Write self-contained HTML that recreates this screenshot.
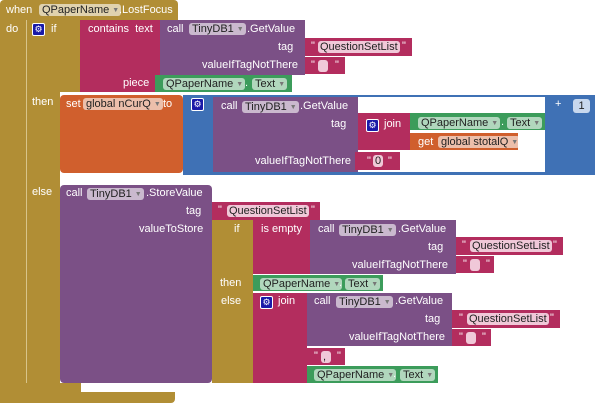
<!DOCTYPE html>
<html><head><style>
body{margin:0;width:600px;height:403px;background:#fff;position:relative;overflow:hidden;font-family:"Liberation Sans",sans-serif;font-size:11px;color:#fff}
.b{position:absolute;box-sizing:border-box}
.o{background:#B18E35}.p{background:#7B5086}.c{background:#B32D5E}.g{background:#3C9C5B}.r{background:#D05F2D}.u{background:#3F71B5}
.t{position:absolute;white-space:nowrap;line-height:13px}
.d{position:absolute;white-space:nowrap;line-height:12px;background:rgba(255,255,255,.6);color:#222;border-radius:3px;padding:0 2px 0 3px;height:12px}
.d i{font-style:normal;font-size:7px;color:#777;margin-left:3px;vertical-align:1px}
.s{position:absolute;white-space:nowrap;line-height:12px;background:#f0c8d8;color:#222;border-radius:3px;padding:0 2px;height:12px}
.gear{position:absolute;width:11px;height:11px;background:#1a1aa8;border:1px solid #fff;border-radius:2px;font-size:9px;line-height:11px;text-align:center}
</style></head><body>
<!-- event -->
<div class="b o" style="left:0;top:0;width:178px;height:20px;border-radius:4px 4px 0 0"></div>
<div class="b o" style="left:0;top:20px;width:26px;height:383px"></div>
<div class="b o" style="left:0;top:392px;width:175px;height:11px;border-radius:0 0 4px 4px"></div>
<div class="t" style="left:6px;top:4px">when</div>
<div class="d" style="left:39px;top:4px">QPaperName<i>▼</i></div>
<div class="t" style="left:119px;top:4px">.LostFocus</div>
<div class="t" style="left:6px;top:23px">do</div>
<!-- if -->
<div class="b o" style="left:26px;top:20px;width:34px;height:372px;border-left:1px solid #d8c48a"></div>
<div class="b o" style="left:60px;top:20px;width:20px;height:72px"></div>
<div class="b o" style="left:26px;top:383px;width:55px;height:9px"></div>
<div class="gear" style="left:32px;top:23px">⚙</div>
<div class="t" style="left:51px;top:23px">if</div>
<div class="t" style="left:32px;top:96px">then</div>
<div class="t" style="left:32px;top:186px">else</div>
<!-- contains -->
<div class="b c" style="left:80px;top:20px;width:80px;height:72px"></div>
<div class="t" style="left:88px;top:23px">contains&nbsp; text</div>
<div class="t" style="left:123px;top:77px">piece</div>
<div class="b p" style="left:160px;top:20px;width:145px;height:55px"></div>
<div class="t" style="left:167px;top:23px">call</div>
<div class="d" style="left:189px;top:23px">TinyDB1<i>▼</i></div>
<div class="t" style="left:247px;top:23px">.GetValue</div>
<div class="t" style="left:278px;top:41px">tag</div>
<div class="t" style="left:202px;top:59px">valueIfTagNotThere</div>
<div class="b c" style="left:305px;top:38px;width:107px;height:18px"></div>
<div class="t" style="left:311px;top:40px">"</div><div class="s" style="left:318px;top:41px">QuestionSetList</div><div class="t" style="left:402px;top:40px">"</div>
<div class="b c" style="left:305px;top:57px;width:40px;height:17px"></div>
<div class="t" style="left:311px;top:59px">"</div><div class="s" style="left:318px;top:60px;width:6px"></div><div class="t" style="left:335px;top:59px">"</div>
<div class="b g" style="left:155px;top:75px;width:137px;height:17px"></div>
<div class="d" style="left:163px;top:78px">QPaperName<i>▼</i></div><div class="t" style="left:245px;top:77px">.</div><div class="d" style="left:252px;top:78px">Text<i>▼</i></div>
<!-- set -->
<div class="b r" style="left:60px;top:95px;width:123px;height:78px;border-radius:4px"></div>
<div class="t" style="left:66px;top:98px">set</div>
<div class="d" style="left:83px;top:98px">global nCurQ<i>▼</i></div>
<div class="t" style="left:163px;top:98px">to</div>
<div class="b u" style="left:183px;top:95px;width:412px;height:80px"></div>
<div class="b" style="left:358px;top:97px;width:187px;height:75px;background:#fff"></div>
<div class="gear" style="left:191px;top:98px">⚙</div>
<div class="t" style="left:555px;top:98px">+</div>
<div class="b" style="left:573px;top:99px;width:17px;height:14px;background:#c8d8ee;border-radius:3px;color:#222;text-align:center;line-height:14px">1</div>
<div class="b p" style="left:213px;top:97px;width:145px;height:75px"></div>
<div class="t" style="left:221px;top:100px">call</div>
<div class="d" style="left:242px;top:101px">TinyDB1<i>▼</i></div>
<div class="t" style="left:300px;top:100px">.GetValue</div>
<div class="t" style="left:331px;top:118px">tag</div>
<div class="t" style="left:255px;top:155px">valueIfTagNotThere</div>
<div class="b c" style="left:358px;top:113px;width:52px;height:37px"></div>
<div class="gear" style="left:366px;top:119px">⚙</div>
<div class="t" style="left:384px;top:118px">join</div>
<div class="b g" style="left:410px;top:113px;width:135px;height:17px"></div>
<div class="d" style="left:418px;top:117px">QPaperName<i>▼</i></div><div class="t" style="left:501px;top:116px">.</div><div class="d" style="left:507px;top:117px">Text<i>▼</i></div>
<div class="b r" style="left:410px;top:133px;width:108px;height:17px"></div>
<div class="t" style="left:418px;top:136px">get</div><div class="d" style="left:438px;top:136px">global stotalQ<i>▼</i></div>
<div class="b c" style="left:355px;top:152px;width:45px;height:18px"></div>
<div class="t" style="left:367px;top:155px">"</div><div class="s" style="left:373px;top:155px">0</div><div class="t" style="left:388px;top:155px">"</div>
<!-- store -->
<div class="b p" style="left:60px;top:185px;width:152px;height:198px;border-radius:4px"></div>
<div class="t" style="left:66px;top:187px">call</div>
<div class="d" style="left:87px;top:188px">TinyDB1<i>▼</i></div>
<div class="t" style="left:146px;top:187px">.StoreValue</div>
<div class="t" style="left:186px;top:205px">tag</div>
<div class="t" style="left:139px;top:223px">valueToStore</div>
<div class="b c" style="left:212px;top:202px;width:108px;height:18px"></div>
<div class="t" style="left:218px;top:204px">"</div><div class="s" style="left:227px;top:205px">QuestionSetList</div><div class="t" style="left:311px;top:204px">"</div>
<div class="b o" style="left:212px;top:220px;width:41px;height:163px"></div>
<div class="t" style="left:234px;top:223px">if</div>
<div class="t" style="left:220px;top:277px">then</div>
<div class="t" style="left:221px;top:295px">else</div>
<div class="b c" style="left:253px;top:220px;width:57px;height:54px"></div>
<div class="t" style="left:261px;top:223px">is empty</div>
<div class="b p" style="left:310px;top:220px;width:146px;height:54px"></div>
<div class="t" style="left:318px;top:223px">call</div>
<div class="d" style="left:339px;top:224px">TinyDB1<i>▼</i></div>
<div class="t" style="left:398px;top:223px">.GetValue</div>
<div class="t" style="left:428px;top:241px">tag</div>
<div class="t" style="left:352px;top:259px">valueIfTagNotThere</div>
<div class="b c" style="left:456px;top:237px;width:107px;height:18px"></div>
<div class="t" style="left:462px;top:239px">"</div><div class="s" style="left:470px;top:240px">QuestionSetList</div><div class="t" style="left:553px;top:239px">"</div>
<div class="b c" style="left:456px;top:256px;width:38px;height:17px"></div>
<div class="t" style="left:463px;top:258px">"</div><div class="s" style="left:470px;top:259px;width:6px"></div><div class="t" style="left:486px;top:258px">"</div>
<div class="b g" style="left:253px;top:275px;width:130px;height:16px"></div>
<div class="d" style="left:260px;top:278px">QPaperName<i>▼</i></div><div class="t" style="left:339px;top:277px">.</div><div class="d" style="left:345px;top:278px">Text<i>▼</i></div>
<div class="b c" style="left:253px;top:293px;width:54px;height:90px"></div>
<div class="gear" style="left:260px;top:296px">⚙</div>
<div class="t" style="left:278px;top:295px">join</div>
<div class="b p" style="left:307px;top:293px;width:145px;height:53px"></div>
<div class="t" style="left:314px;top:295px">call</div>
<div class="d" style="left:336px;top:296px">TinyDB1<i>▼</i></div>
<div class="t" style="left:395px;top:295px">.GetValue</div>
<div class="t" style="left:425px;top:313px">tag</div>
<div class="t" style="left:349px;top:331px">valueIfTagNotThere</div>
<div class="b c" style="left:452px;top:310px;width:108px;height:18px"></div>
<div class="t" style="left:459px;top:312px">"</div><div class="s" style="left:467px;top:313px">QuestionSetList</div><div class="t" style="left:550px;top:312px">"</div>
<div class="b c" style="left:452px;top:329px;width:39px;height:17px"></div>
<div class="t" style="left:459px;top:331px">"</div><div class="s" style="left:466px;top:332px;width:6px"></div><div class="t" style="left:482px;top:331px">"</div>
<div class="b c" style="left:307px;top:348px;width:38px;height:17px"></div>
<div class="t" style="left:314px;top:350px">"</div><div class="s" style="left:321px;top:351px;width:6px">,</div><div class="t" style="left:337px;top:350px">"</div>
<div class="b g" style="left:307px;top:366px;width:131px;height:17px"></div>
<div class="d" style="left:314px;top:369px">QPaperName<i>▼</i></div><div class="t" style="left:393px;top:368px">.</div><div class="d" style="left:400px;top:369px">Text<i>▼</i></div>
</body></html>
